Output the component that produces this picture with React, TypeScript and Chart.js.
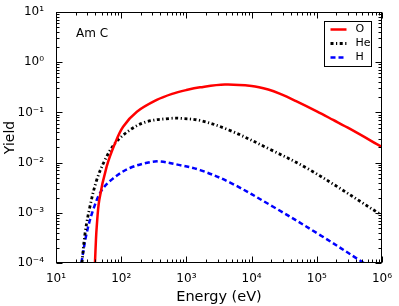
import React, { useEffect, useRef } from 'react';
import { Chart, registerables } from 'chart.js';
Chart.register(...registerables);

// ---- data ----
const energyO = [39.6, 41.0, 42.1, 46.1, 59.8, 80.4, 107, 174, 351, 603, 1000, 1620, 3890, 10000, 18000, 27500, 49000, 100000, 178000, 324000, 1000000];
const yieldO = [1e-4, 2.9e-4, 5.2e-4, 1.8e-3, 8.3e-3, 0.0242, 0.0519, 0.103, 0.177, 0.234, 0.279, 0.316, 0.359, 0.335, 0.285, 0.234, 0.166, 0.105, 0.0708, 0.0468, 0.0204];

const energyHe = [25.0, 27.9, 33.1, 42.1, 56.2, 80.4, 136, 245, 562, 794, 1620, 4470, 19100, 79400, 1000000];
const yieldHe = [1e-4, 3.9e-4, 1.32e-3, 4.5e-3, 0.0112, 0.0242, 0.0447, 0.0653, 0.0759, 0.0762, 0.0690, 0.0447, 0.0184, 0.0071, 8.9e-4];

const energyH = [24.5, 29.5, 37.2, 50.1, 75.9, 136, 275, 398, 794, 1620, 4680, 21400, 105000, 513000, 1000000];
const yieldH = [1e-4, 3.9e-4, 1.15e-3, 2.8e-3, 4.9e-3, 7.8e-3, 0.0102, 0.0105, 0.0089, 0.0071, 0.0040, 0.00132, 3.8e-4, 1.02e-4, 5.6e-5];

const seriesLabels = ['O', 'He', 'H'];
const xTicks = [1e1, 1e2, 1e3, 1e4, 1e5, 1e6];
const yTicks = [1e-4, 1e-3, 1e-2, 1e-1, 1e0, 1e1];
const annotationText = 'Am C';
const xTitle = 'Energy (eV)';
const yTitle = 'Yield';

const FONT = 'DejaVu Sans';
const SUP: Record<string, string> = { '0': '⁰', '1': '¹', '2': '²', '3': '³', '4': '⁴', '5': '⁵', '6': '⁶', '7': '⁷', '8': '⁸', '9': '⁹', '-': '⁻' };
const fmt = (v: number) => {
  const e = Math.round(Math.log10(v));
  return '10' + String(e).split('').map((c) => SUP[c] || c).join('');
};

const toPts = (xs: number[], ys: number[]) => xs.map((x, i) => ({ x, y: ys[i] }));

const decadeMinors = (min: number, max: number) => {
  const out: { v: number; major: boolean }[] = [];
  for (let e = Math.floor(Math.log10(min)); e <= Math.ceil(Math.log10(max)); e++) {
    for (let k = 1; k <= 9; k++) {
      const v = k * Math.pow(10, e);
      if (v >= min * 0.9999 && v <= max * 1.0001) out.push({ v, major: k === 1 });
    }
  }
  return out;
};

const framePlugin = {
  id: 'framePlugin',
  afterDatasetsDraw(chart: any) {
    const { ctx, chartArea: a, scales } = chart;
    const xs = scales.x, ys = scales.y;
    ctx.save();
    ctx.strokeStyle = '#000';
    ctx.lineWidth = 1;
    const L = Math.round(a.left) + 0.5, R = Math.round(a.right) - 0.5;
    const T = Math.round(a.top) + 0.5, B = Math.round(a.bottom) - 0.5;
    ctx.beginPath();
    decadeMinors(xs.min, xs.max).forEach(({ v, major }) => {
      const p = Math.round(xs.getPixelForValue(v)) + 0.5;
      const len = major ? 6 : 3;
      ctx.moveTo(p, B); ctx.lineTo(p, B - len);
      ctx.moveTo(p, T); ctx.lineTo(p, T + len);
    });
    decadeMinors(ys.min, ys.max).forEach(({ v, major }) => {
      const p = Math.round(ys.getPixelForValue(v)) + 0.5;
      const len = major ? 6 : 3;
      ctx.moveTo(L, p); ctx.lineTo(L + len, p);
      ctx.moveTo(R, p); ctx.lineTo(R - len, p);
    });
    ctx.stroke();
    ctx.strokeRect(L, T, R - L, B - T);

    // annotation
    ctx.fillStyle = '#000';
    ctx.font = `12px "${FONT}"`;
    ctx.textBaseline = 'middle';
    ctx.textAlign = 'left';
    ctx.fillText(annotationText, a.left + 20, a.top + 22);

    // legend
    const bx = Math.round(a.right) - 57.5, by = Math.round(a.top) + 9.5, bw = 47, bh = 45;
    ctx.fillStyle = '#fff';
    ctx.fillRect(bx, by, bw, bh);
    ctx.strokeRect(bx, by, bw, bh);
    chart.data.datasets.forEach((ds: any, i: number) => {
      const y = by + 8 + i * 14;
      ctx.save();
      ctx.strokeStyle = ds.borderColor;
      ctx.lineWidth = ds.borderWidth;
      ctx.setLineDash(ds.borderDash || []);
      ctx.beginPath();
      ctx.moveTo(bx + 6, y);
      ctx.lineTo(bx + 22, y);
      ctx.stroke();
      ctx.restore();
      ctx.fillStyle = '#000';
      ctx.font = `11px "${FONT}"`;
      ctx.fillText(ds.label, bx + 31, y);
    });
    ctx.restore();
  },
};

export default function App() {
  const ref = useRef<HTMLCanvasElement>(null);
  useEffect(() => {
    document.body.style.margin = '0';
    const common = { pointRadius: 0, tension: 0.35, cubicInterpolationMode: 'default', fill: false };
    const chart = new Chart(ref.current!, {
      type: 'line',
      data: {
        datasets: [
          { ...common, label: seriesLabels[0], data: toPts(energyO, yieldO), borderColor: '#ff0000', borderWidth: 2.5 },
          { ...common, label: seriesLabels[1], data: toPts(energyHe, yieldHe), borderColor: '#000000', borderWidth: 2.8, borderDash: [3, 2.5, 1.2, 2.5] },
          { ...common, label: seriesLabels[2], data: toPts(energyH, yieldH), borderColor: '#0000ff', borderWidth: 2.5, borderDash: [5, 3] },
        ],
      },
      options: {
        responsive: false,
        animation: false,
        layout: { padding: { left: 0, top: 12, right: 17, bottom: 0 } },
        plugins: { legend: { display: false }, tooltip: { enabled: false } },
        scales: {
          x: {
            type: 'logarithmic',
            min: 10,
            max: 1e6,
            grid: { display: false },
            border: { display: false },
            afterBuildTicks: (s: any) => { s.ticks = xTicks.map((v) => ({ value: v })); },
            afterFit: (s: any) => { s.height = 43; },
            ticks: { color: '#000', font: { family: FONT, size: 12 }, padding: 1, maxRotation: 0, autoSkip: false, callback: (v: any) => fmt(Number(v)) },
            title: { display: true, text: xTitle, color: '#000', font: { family: FONT, size: 14.5 }, padding: { top: 0, bottom: 0 } },
          },
          y: {
            type: 'logarithmic',
            min: 1e-4,
            max: 10,
            grid: { display: false },
            border: { display: false },
            afterBuildTicks: (s: any) => { s.ticks = yTicks.map((v) => ({ value: v })); },
            afterFit: (s: any) => { s.width = 56; },
            ticks: { color: '#000', font: { family: FONT, size: 12 }, padding: 4, autoSkip: false, callback: (v: any) => fmt(Number(v)) },
            title: { display: true, text: yTitle, color: '#000', font: { family: FONT, size: 14 }, padding: { top: 2, bottom: 0 } },
          },
        },
      },
      plugins: [framePlugin],
    } as any);
    return () => chart.destroy();
  }, []);
  return (
    <div style={{ width: 399, height: 306, background: '#fff' }}>
      <canvas ref={ref} width={399} height={306} style={{ width: 399, height: 306, display: 'block' }} />
    </div>
  );
}
